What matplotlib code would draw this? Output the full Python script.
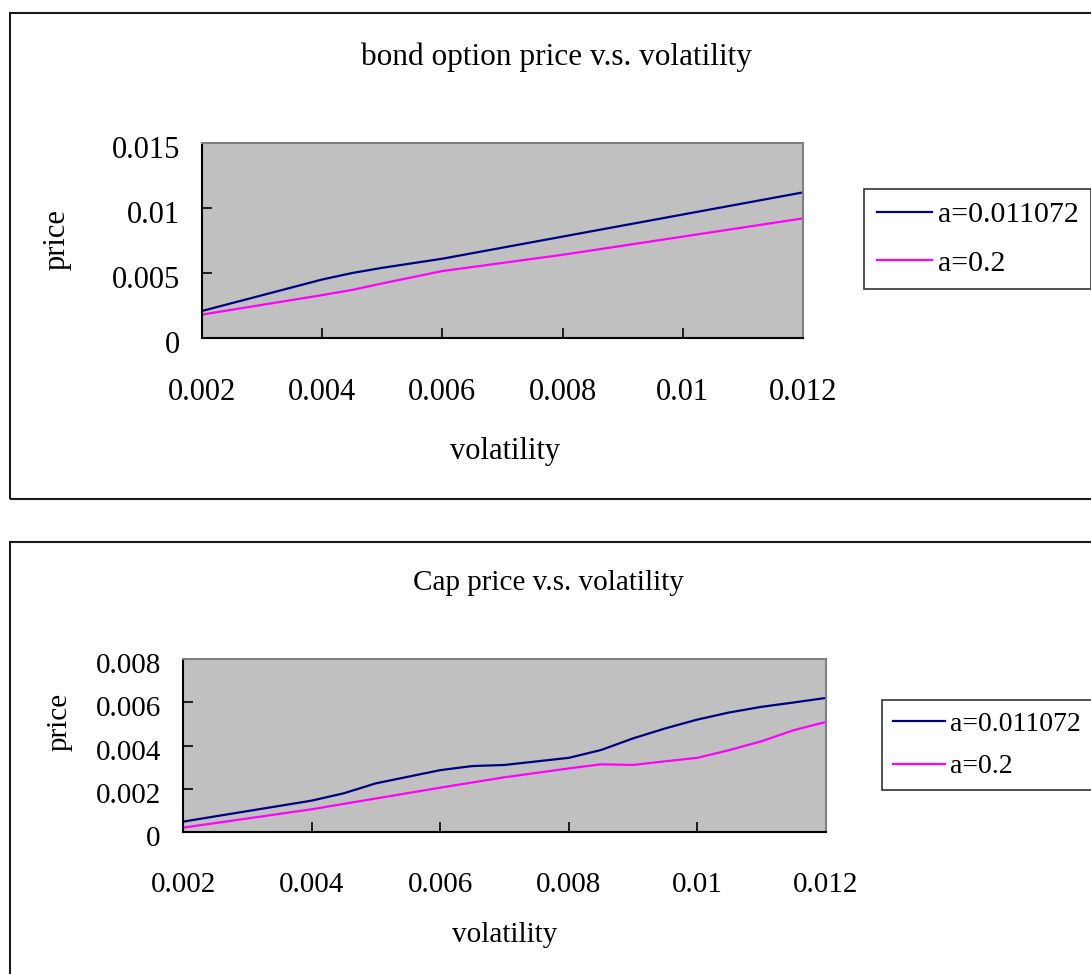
import matplotlib
matplotlib.use("Agg")
import matplotlib.pyplot as plt
from matplotlib.patches import Rectangle
from matplotlib.lines import Line2D
import matplotlib.transforms as mtransforms

plt.rcParams['font.family'] = ['Liberation Serif', 'DejaVu Serif']

# ---------------- data ----------------
series_labels = ["a=0.011072", "a=0.2"]

bond_vol = [0.002, 0.004, 0.0045, 0.005, 0.006, 0.008, 0.010, 0.012]
bond_a1 = [0.00208, 0.0045, 0.0050, 0.0054, 0.0061, 0.0078, 0.0095, 0.0112]
bond_a2 = [0.0018, 0.0033, 0.0037, 0.0042, 0.00515, 0.0064, 0.0078, 0.0092]

cap_vol = [0.002, 0.004, 0.0045, 0.005, 0.006, 0.0065, 0.007, 0.008,
           0.0085, 0.009, 0.0095, 0.010, 0.0105, 0.011, 0.0115, 0.012]
cap_a1 = [0.00048, 0.00145, 0.00179, 0.00225, 0.00286, 0.00305, 0.00310, 0.00343,
          0.00379, 0.00433, 0.00479, 0.00520, 0.00553, 0.00579, 0.00599, 0.00620]
cap_a2 = [0.00020, 0.00105, 0.00130, 0.00155, 0.00205, 0.00229, 0.00253, 0.00294,
          0.00313, 0.00310, 0.00327, 0.00343, 0.00379, 0.00420, 0.00471, 0.00509]

x_ticks = [0.002, 0.004, 0.006, 0.008, 0.010, 0.012]
x_ticklabels = ["0.002", "0.004", "0.006", "0.008", "0.01", "0.012"]
bond_yticks = [0, 0.005, 0.01, 0.015]
bond_yticklabels = ["0", "0.005", "0.01", "0.015"]
cap_yticks = [0, 0.002, 0.004, 0.006, 0.008]
cap_yticklabels = ["0", "0.002", "0.004", "0.006", "0.008"]

titles = ["bond option price v.s. volatility", "Cap price v.s. volatility"]
xlabel = "volatility"
ylabel = "price"

# ---------------- figure ----------------
W, H = 1091, 974
fig = plt.figure(figsize=(W / 100, H / 100), dpi=100)
fig.patch.set_facecolor("white")


def fx(px):
    return px / W


def fy(py):
    return 1 - py / H


# outer chart frames
fig.patches.append(Rectangle((fx(10), fy(499)), 1.2, fy(13) - fy(499),
                             transform=fig.transFigure, fill=False,
                             edgecolor="#1a1a1a", linewidth=1.5))
fig.patches.append(Rectangle((fx(10), -0.2), 1.2, fy(542) + 0.2,
                             transform=fig.transFigure, fill=False,
                             edgecolor="#1a1a1a", linewidth=1.5))

colors = ["#000080", "#FF00FF"]


def make_axes(rect, xs, y1, y2, yticks, yticklabels, ylim, fs, xpad):
    ax = fig.add_axes(rect)
    ax.set_facecolor("#C0C0C0")
    ax.plot(xs, y1, color=colors[0], lw=1.6, label=series_labels[0])
    ax.plot(xs, y2, color=colors[1], lw=1.6, label=series_labels[1])
    ax.set_xlim(0.002, 0.012)
    ax.set_ylim(*ylim)
    ax.set_xticks(x_ticks)
    ax.set_xticklabels(x_ticklabels)
    ax.set_yticks(yticks)
    ax.set_yticklabels(yticklabels)
    ax.tick_params(axis="both", direction="in", length=7, width=1.2,
                   labelsize=fs, colors="black")
    ax.tick_params(axis="x", pad=xpad)
    ax.tick_params(axis="y", pad=16)
    for s in ["top", "right"]:
        ax.spines[s].set_color("#808080")
        ax.spines[s].set_linewidth(1.5)
    for s in ["left", "bottom"]:
        ax.spines[s].set_color("black")
        ax.spines[s].set_linewidth(1.5)
    off = mtransforms.ScaledTranslation(0, -4 / 100, fig.dpi_scale_trans)
    for lab in ax.get_yticklabels():
        lab.set_transform(lab.get_transform() + off)
    return ax


ax1 = make_axes([fx(202), fy(338), fx(803) - fx(202), fy(143) - fy(338)],
                bond_vol, bond_a1, bond_a2, bond_yticks, bond_yticklabels,
                (0, 0.015), 22, 29)
ax2 = make_axes([fx(183), fy(832), fx(826) - fx(183), fy(659) - fy(832)],
                cap_vol, cap_a1, cap_a2, cap_yticks, cap_yticklabels,
                (0, 0.008), 21, 29)

# titles and labels
fig.text(fx(556), fy(57), titles[0], ha="center", va="center", fontsize=22.5)
fig.text(fx(548), fy(583), titles[1], ha="center", va="center", fontsize=21)
fig.text(fx(505), fy(452), xlabel, ha="center", va="center", fontsize=22)
fig.text(fx(505), fy(935), xlabel, ha="center", va="center", fontsize=21)
fig.text(fx(57), fy(240), ylabel, ha="center", va="center", rotation=90, fontsize=22)
fig.text(fx(60), fy(722), ylabel, ha="center", va="center", rotation=90, fontsize=21)

# legends
for (lx, ly), fs, ls, bp in [((864, 189), 21.5, 0.72, 0.42), ((882, 700), 20, 0.62, 0.4)]:
    handles = [Line2D([], [], color=c, lw=1.6) for c in colors]
    leg = fig.legend(handles, series_labels, loc="upper left",
                     bbox_to_anchor=(fx(lx), fy(ly)), bbox_transform=fig.transFigure,
                     fontsize=fs, frameon=True, fancybox=False, shadow=False,
                     borderaxespad=0, borderpad=bp, handlelength=1.85,
                     handletextpad=0.2, labelspacing=ls)
    fr = leg.get_frame()
    fr.set_edgecolor("#333333")
    fr.set_linewidth(1.2)
    fr.set_facecolor("white")
    fr.set_alpha(1)

fig.savefig("out.png", dpi=100)
